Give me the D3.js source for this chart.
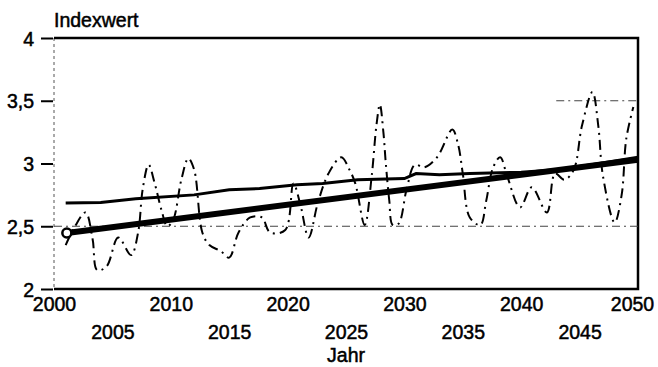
<!DOCTYPE html>
<html>
<head>
<meta charset="utf-8">
<script src="https://cdn.jsdelivr.net/npm/d3@7"></script>
<style>
  body { margin: 0; background: #fff; }
  svg text { font-family: "Liberation Sans", Arial, sans-serif; fill: #000; stroke: #000; stroke-width: 0.5px; }
</style>
</head>
<body>
<div id="chart"></div>
<script>
// DATA
const yTicks = [2, 2.5, 3, 3.5, 4];
const xTicks = [2000, 2005, 2010, 2015, 2020, 2025, 2030, 2035, 2040, 2045, 2050];

// fluctuating index (dash-dot)
const flucYear = [2001.0, 2001.8, 2002.7, 2003.3, 2003.7, 2004.5, 2005.5, 2006.6, 2007.2, 2007.6,
  2008.1, 2008.6, 2009.2, 2009.7, 2010.2, 2010.9, 2011.5, 2012.0, 2012.7, 2013.3,
  2014.3, 2015.0, 2015.8, 2016.8, 2017.8, 2018.5, 2019.8, 2020.5, 2021.1, 2021.8,
  2022.6, 2023.5, 2024.6, 2025.3, 2025.8, 2026.6, 2027.2, 2027.6, 2027.9, 2028.2,
  2028.4, 2028.7, 2029.0, 2029.5, 2030.2, 2030.9, 2031.7, 2032.8, 2034.1, 2034.6,
  2035.0, 2035.6, 2036.5, 2037.0, 2037.6, 2038.2, 2038.8, 2039.9, 2040.9, 2042.2,
  2042.9, 2043.7, 2044.5, 2045.2, 2046.1, 2046.6, 2047.0, 2048.0, 2048.6, 2049.0, 2049.6];
const flucValue = [2.35, 2.50, 2.61, 2.40, 2.15, 2.18, 2.41, 2.27, 2.45, 2.80,
  2.99, 2.85, 2.63, 2.50, 2.55, 2.87, 3.04, 2.95, 2.45, 2.35,
  2.30, 2.25, 2.45, 2.57, 2.57, 2.45, 2.47, 2.84, 2.67, 2.41,
  2.69, 2.92, 3.05, 2.95, 2.84, 2.51, 2.90, 3.30, 3.47, 3.25,
  3.01, 2.71, 2.51, 2.52, 2.80, 2.99, 2.97, 3.05, 3.27, 3.15,
  2.92, 2.57, 2.51, 2.70, 2.97, 3.05, 2.90, 2.65, 2.81, 2.61,
  2.92, 2.87, 2.95, 3.30, 3.57, 3.30, 2.90, 2.53, 2.75, 3.20, 3.45];

// thin trend
const thinYear = [2001, 2004, 2007, 2012, 2015, 2017.6, 2020.8, 2023, 2026, 2030, 2031, 2033, 2035.6, 2040, 2043, 2046, 2050];
const thinValue = [2.685, 2.69, 2.72, 2.75, 2.79, 2.80, 2.83, 2.84, 2.87, 2.88, 2.92, 2.91, 2.92, 2.93, 2.95, 2.99, 3.05];

// thick linear trend
const trendYear = [2001.1, 2050];
const trendValue = [2.446, 3.03];

// reference levels
const refValue = [2.5, 3.5];
const refFrom = [2000, 2043];
const refTo = [2050, 2050];

const W = 658, H = 367;
const margin = {top: 38, right: 20, bottom: 78, left: 54};
const width = W - margin.left - margin.right;
const height = H - margin.top - margin.bottom;

const svg = d3.select('#chart').append('svg')
  .attr('width', W).attr('height', H);
const g = svg.append('g')
  .attr('transform', 'translate(' + margin.left + ',' + margin.top + ')');

// SCALES
const x = d3.scaleLinear().domain([2000, 2050]).range([0, width]);
const y = d3.scaleLinear().domain([2, 4]).range([height, 0]);

const fmt = d => String(d).replace('.', ',');

// Y AXIS
const yAxis = d3.axisLeft(y).tickValues(yTicks).tickFormat(fmt).tickSize(13).tickPadding(7);
const yG = g.append('g').call(yAxis);
yG.select('.domain').remove();
yG.selectAll('.tick line').attr('stroke', '#000').attr('stroke-width', 2).attr('x2', -1).attr('x1', -13);
yG.selectAll('.tick text').attr('font-size', 19.5).attr('dy', '0.36em');

// X AXIS (staggered labels)
const xAxis = d3.axisBottom(x).tickValues(xTicks).tickFormat(d3.format('d')).tickSize(0);
const xG = g.append('g').attr('transform', 'translate(0,' + height + ')').call(xAxis);
xG.select('.domain').remove();
xG.selectAll('.tick text')
  .attr('font-size', 19.5)
  .attr('y', (d, i) => i % 2 === 0 ? 8 : 36)
  .attr('dx', d => d === 2050 ? -6 : 0)
  .attr('dy', '0.71em');

// FRAME
g.append('line').attr('x1', 0).attr('x2', 0).attr('y1', 0).attr('y2', height)
  .attr('stroke', '#555').attr('stroke-width', 1).attr('stroke-dasharray', '3,3');
g.append('path')
  .attr('d', 'M0,0H' + width + 'V' + height + 'H0')
  .attr('fill', 'none').attr('stroke', '#000').attr('stroke-width', 2.5);

// REFERENCE LINES
refValue.forEach((v, i) => {
  g.append('line')
    .attr('x1', x(refFrom[i])).attr('x2', x(refTo[i]))
    .attr('y1', y(v)).attr('y2', y(v))
    .attr('stroke', '#444').attr('stroke-width', 1.2)
    .attr('stroke-dasharray', '8,4,2,4');
});

const line = d3.line().x(d => x(d[0])).y(d => y(d[1]));

// fluctuating series
g.append('path')
  .datum(flucYear.map((t, i) => [t, flucValue[i]]))
  .attr('d', line.curve(d3.curveCatmullRom.alpha(0.5)))
  .attr('fill', 'none').attr('stroke', '#000').attr('stroke-width', 2)
  .attr('stroke-dasharray', '10,5,2,5');

// thin trend
g.append('path')
  .datum(thinYear.map((t, i) => [t, thinValue[i]]))
  .attr('d', line.curve(d3.curveLinear))
  .attr('fill', 'none').attr('stroke', '#000').attr('stroke-width', 3);

// thick trend
g.append('path')
  .datum(trendYear.map((t, i) => [t, trendValue[i]]))
  .attr('d', line.curve(d3.curveLinear))
  .attr('fill', 'none').attr('stroke', '#000').attr('stroke-width', 6);

g.append('circle')
  .attr('cx', x(trendYear[0])).attr('cy', y(trendValue[0])).attr('r', 4.5)
  .attr('fill', '#fff').attr('stroke', '#000').attr('stroke-width', 2.5);

// LABELS
svg.append('text').attr('x', 54).attr('y', 27)
  .attr('font-size', 19.5).text('Indexwert');
svg.append('text').attr('x', margin.left + width / 2).attr('y', 362)
  .attr('text-anchor', 'middle').attr('font-size', 19.5).text('Jahr');
</script>
</body>
</html>
